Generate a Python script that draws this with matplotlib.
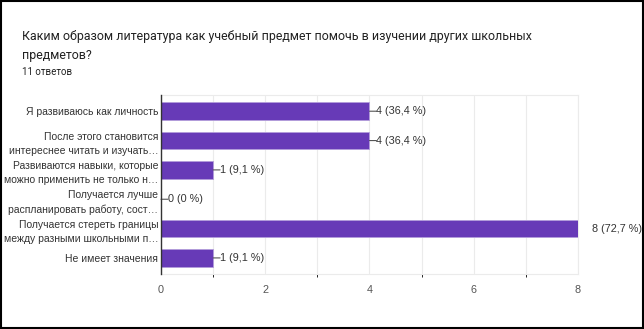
import matplotlib.pyplot as plt
from matplotlib.patches import Rectangle

title = 'Каким образом литература как учебный предмет помочь в изучении других школьных\nпредметов?'
subtitle = '11 ответов'
labels = ['Я развиваюсь как личность',
          'После этого становится\nинтереснее читать и изучать…',
          'Развиваются навыки, которые\nможно применить не только н…',
          'Получается лучше\nраспланировать работу, сост…',
          'Получается стереть границы\nмежду разными школьными п…',
          'Не имеет значения']
counts = [4, 4, 1, 0, 8, 1]
percents = ['36,4', '36,4', '9,1', '0', '72,7', '9,1']

fig = plt.figure(figsize=(6.44, 3.29), dpi=100)
ax = fig.add_axes([0.25, 0.167, 0.6475, 0.544])

y = list(range(len(labels)))
ax.barh(y, counts, height=0.6, color='#673ab7', edgecolor='#b39ddb', linewidth=0.6, zorder=3)
ax.set_ylim(len(labels) - 0.45, -0.55)
ax.set_xlim(0, 8)
ax.set_yticks(y)
ax.set_yticklabels(labels, fontsize=7.5, color='#333333', family='Liberation Sans', linespacing=1.55)
ax.set_xticks([0, 2, 4, 6, 8])
ax.set_xticklabels(['0', '2', '4', '6', '8'], fontsize=7.8, color='#555555', family='Liberation Sans')
ax.set_xticks(range(0, 9), minor=True)
ax.grid(axis='x', which='both', color='#ebebeb', linewidth=0.8, zorder=0)
ax.tick_params(length=0, pad=2)
ax.tick_params(axis='x', pad=8)
for s in ['top', 'right', 'bottom']:
    ax.spines[s].set_color('#ebebeb')
ax.spines['left'].set_color('#333333')
ax.spines['left'].set_linewidth(1.0)
ax.spines['left'].set_zorder(4)

# value labels with a short leader line, like the Google Forms chart
for i, (c, p) in enumerate(zip(counts, percents)):
    txt = f'{c} ({p} %)'
    if c == 8:
        ax.annotate(txt, (c, i), xytext=(10, 0), textcoords='offset points',
                    va='center', ha='left', fontsize=7.8, color='#333333', family='Liberation Sans')
    else:
        ax.annotate(txt, (c, i), xytext=(5, 0), textcoords='offset points',
                    va='center', ha='left', fontsize=7.8, color='#333333', family='Liberation Sans')
        ax.annotate('', (c, i), xytext=(5, 0), textcoords='offset points',
                    arrowprops=dict(arrowstyle='-', color='#555555', lw=0.8, shrinkA=0, shrinkB=0))

fig.text(0.034, 0.91, title, fontsize=8.9, color='#222222', family='Roboto',
         va='top', ha='left', linespacing=1.6)
fig.text(0.034, 0.795, subtitle, fontsize=7, color='#222222', family='Roboto', va='top', ha='left')

fig.patches.append(Rectangle((0.002, 0.003), 0.996, 0.994, transform=fig.transFigure,
                             fill=False, edgecolor='black', linewidth=1.5))

fig.savefig('out.png', dpi=100)
